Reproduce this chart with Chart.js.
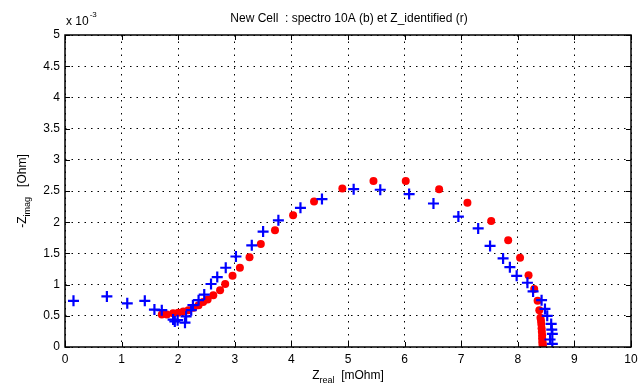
<!DOCTYPE html>
<html><head><meta charset="utf-8">
<script src="https://cdn.jsdelivr.net/npm/chart.js@4/dist/chart.umd.min.js"></script>
<style>html,body{margin:0;padding:0;background:#fff}#wrap{width:643px;height:392px}</style>
</head><body><div id="wrap"><canvas id="c" width="643" height="392"></canvas></div>
<script>
const titleText = "New Cell  : spectro 10A (b) et Z_identified (r)";
const xTicks = [0,1,2,3,4,5,6,7,8,9,10];
const yTicks = [0,0.5,1,1.5,2,2.5,3,3.5,4,4.5,5];
const blueX = [0.15,0.74,1.10,1.41,1.58,1.71,1.91,1.94,1.99,2.12,2.14,2.23,2.26,2.36,2.46,2.58,2.69,2.84,3.02,3.30,3.50,3.77,4.16,4.54,5.10,5.57,6.08,6.51,6.95,7.30,7.51,7.74,7.86,7.98,8.17,8.27,8.42,8.48,8.52,8.59,8.60,8.61,8.57,8.61];
const blueY = [0.74,0.81,0.70,0.74,0.60,0.59,0.44,0.41,0.43,0.39,0.49,0.59,0.67,0.75,0.84,1.01,1.12,1.27,1.45,1.63,1.85,2.03,2.23,2.37,2.53,2.52,2.45,2.30,2.09,1.90,1.62,1.42,1.28,1.14,1.03,0.89,0.75,0.61,0.50,0.37,0.28,0.21,0.12,0.05];
const redX = [1.71,1.80,1.91,2.00,2.09,2.18,2.27,2.36,2.44,2.52,2.62,2.74,2.83,2.96,3.09,3.26,3.46,3.71,4.03,4.40,4.90,5.45,6.02,6.61,7.11,7.53,7.83,8.04,8.19,8.29,8.35,8.38,8.40,8.41,8.415,8.42,8.425,8.43,8.43,8.435,8.435,8.44,8.44,8.44];
const redY = [0.52,0.52,0.54,0.55,0.57,0.59,0.63,0.67,0.72,0.76,0.83,0.91,1.01,1.14,1.27,1.44,1.65,1.87,2.11,2.33,2.54,2.66,2.66,2.53,2.31,2.02,1.71,1.43,1.15,0.93,0.74,0.59,0.47,0.42,0.37,0.30,0.245,0.19,0.14,0.096,0.07,0.048,0.025,0.005];

const FONT = "'Liberation Sans', Arial, sans-serif";
const blueData = blueX.map((x,i)=>({x, y: blueY[i]}));
const redData = redX.map((x,i)=>({x, y: redY[i]}));

const matlabPlugin = {
  id: 'matlab',
  afterDatasetsDraw(chart) {
    const {ctx, chartArea: a, scales} = chart;
    ctx.save();
    ctx.strokeStyle = '#000';
    ctx.lineWidth = 1;
    ctx.beginPath();
    xTicks.forEach(v => {
      const px = Math.round(scales.x.getPixelForValue(v)) + 0.5;
      ctx.moveTo(px, a.bottom); ctx.lineTo(px, a.bottom - 5);
      ctx.moveTo(px, a.top); ctx.lineTo(px, a.top + 5);
    });
    yTicks.forEach(v => {
      const py = Math.round(scales.y.getPixelForValue(v)) + 0.5;
      ctx.moveTo(a.left, py); ctx.lineTo(a.left + 5, py);
      ctx.moveTo(a.right, py); ctx.lineTo(a.right - 5, py);
    });
    ctx.stroke();
    ctx.lineWidth = 1.5;
    ctx.strokeRect(a.left, a.top, a.right - a.left, a.bottom - a.top);
    ctx.restore();
  },
  afterDraw(chart) {
    const {ctx, chartArea: a} = chart;
    ctx.save();
    ctx.fillStyle = '#000';
    ctx.font = `12px ${FONT}`;
    ctx.textAlign = 'center';
    ctx.textBaseline = 'alphabetic';
    ctx.fillText(titleText, (a.left + a.right) / 2 + 1, 22);
    ctx.textAlign = 'left';
    ctx.font = `12px ${FONT}`;
    ctx.fillText('x 10', 66, 25);
    const w = ctx.measureText('x 10').width;
    ctx.font = `8px ${FONT}`;
    ctx.fillText('-3', 66 + w + 1, 17);
    const cx = (a.left + a.right) / 2;
    ctx.font = `12px ${FONT}`;
    const zW = ctx.measureText('Z').width;
    ctx.font = `9px ${FONT}`;
    const subW = ctx.measureText('real').width;
    ctx.font = `12px ${FONT}`;
    const restW = ctx.measureText('  [mOhm]').width;
    let sx = cx - (zW + subW + restW) / 2;
    const by = 379;
    ctx.fillText('Z', sx, by);
    ctx.font = `9px ${FONT}`;
    ctx.fillText('real', sx + zW, by + 4);
    ctx.font = `12px ${FONT}`;
    ctx.fillText('  [mOhm]', sx + zW + subW, by);
    ctx.translate(26, (a.top + a.bottom) / 2);
    ctx.rotate(-Math.PI / 2);
    ctx.font = `12px ${FONT}`;
    const mW = ctx.measureText('-Z').width;
    ctx.font = `9px ${FONT}`;
    const iW = ctx.measureText('imag').width;
    ctx.font = `12px ${FONT}`;
    const oW = ctx.measureText('   [Ohm]').width;
    sx = -(mW + iW + oW) / 2;
    ctx.fillText('-Z', sx, 0);
    ctx.font = `9px ${FONT}`;
    ctx.fillText('imag', sx + mW, 4);
    ctx.font = `12px ${FONT}`;
    ctx.fillText('   [Ohm]', sx + mW + iW, 0);
    ctx.restore();
  }
};

new Chart(document.getElementById('c'), {
  type: 'scatter',
  data: {
    datasets: [
      { label: 'spectro', data: blueData, pointStyle: 'cross', pointRadius: 5.5, borderColor: '#0000ff', backgroundColor: '#0000ff', borderWidth: 2.2, order: 1 },
      { label: 'identified', data: redData, pointStyle: 'circle', pointRadius: 4, borderColor: '#ff0000', backgroundColor: '#ff0000', borderWidth: 0, order: 2 }
    ]
  },
  plugins: [matlabPlugin],
  options: {
    responsive: false,
    animation: false,
    events: [],
    layout: { padding: { top: 35, right: 12, left: 0, bottom: 0 } },
    plugins: { legend: { display: false }, tooltip: { enabled: false }, title: { display: false } },
    scales: {
      x: {
        type: 'linear', min: 0, max: 10,
        afterBuildTicks: s => { s.ticks = xTicks.map(v => ({value: v})); },
        afterFit: s => { s.height = 45; },
        grid: { color: '#000', lineWidth: 1, drawTicks: false },
        border: { display: false, dash: [1.5, 5] },
        ticks: { color: '#000', font: { size: 12, family: FONT }, padding: 5, maxRotation: 0, callback: v => String(v) }
      },
      y: {
        type: 'linear', min: 0, max: 5,
        afterBuildTicks: s => { s.ticks = yTicks.map(v => ({value: v})); },
        afterFit: s => { s.width = 65; },
        grid: { color: '#000', lineWidth: 1, drawTicks: false },
        border: { display: false, dash: [1.5, 5] },
        ticks: { color: '#000', font: { size: 12, family: FONT }, padding: 5, callback: v => String(v) }
      }
    }
  }
});
</script>
</body></html>
